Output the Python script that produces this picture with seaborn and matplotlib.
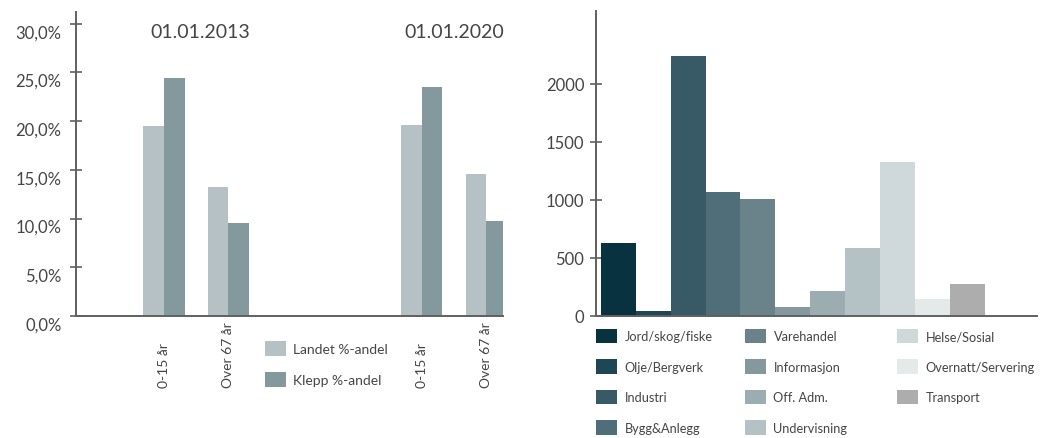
import matplotlib
matplotlib.use("Agg")
import matplotlib.pyplot as plt
import matplotlib.transforms as mtransforms
from matplotlib.patches import Patch
import seaborn as sns
import pandas as pd

# ---------------- data ----------------
age_order = ["pad0", "2013|0-15 år", "2013|Over 67 år", "pad1", "pad2",
             "2020|0-15 år", "2020|Over 67 år"]
age_cats = ["2013|0-15 år", "2013|Over 67 år", "2020|0-15 år", "2020|Over 67 år"]
age_labels = ["0-15 år", "Over 67 år", "0-15 år", "Over 67 år"]
landet = [19.5, 13.2, 19.6, 14.6]
klepp = [24.4, 9.5, 23.5, 9.7]
series = ["Landet %-andel", "Klepp %-andel"]
dates = ["01.01.2013", "01.01.2020"]
pct_ticks = [0, 5, 10, 15, 20, 25, 30]
pct_labels = ["0,0%", "5,0%", "10,0%", "15,0%", "20,0%", "25,0%", "30,0%"]

sectors = ["Jord/skog/fiske", "Olje/Bergverk", "Industri", "Bygg&Anlegg",
           "Varehandel", "Informasjon", "Off. Adm.", "Undervisning",
           "Helse/Sosial", "Overnatt/Servering", "Transport"]
employees = [630, 40, 2240, 1070, 1010, 75, 215, 590, 1330, 145, 275]
count_ticks = [0, 500, 1000, 1500, 2000]

# ---------------- style ----------------
sns.set_style("white")
plt.rcParams["font.family"] = ["Lato", "DejaVu Sans"]
TXT = "#454545"
SPINE = "#606060"
series_colors = ["#b5c1c5", "#84999e"]
sector_colors = ["#08323f", "#1f4654", "#375a66", "#4f6e79", "#6a838b",
                 "#84989e", "#9cadb2", "#b4c1c5", "#cfd8db", "#e4eaea", "#adadad"]

W, H = 1041, 439
fig = plt.figure(figsize=(W / 100, H / 100), dpi=100)

def px_axes(x0, x1, ytop, ybot):
    return fig.add_axes([x0 / W, 1 - ybot / H, (x1 - x0) / W, (ybot - ytop) / H])

# ---------------- left chart ----------------
ax1 = px_axes(76, 503, 13, 317)
df1 = pd.DataFrame({
    "cat": age_cats * 2,
    "series": [series[0]] * 4 + [series[1]] * 4,
    "value": landet + klepp,
})
sns.barplot(data=df1, x="cat", y="value", hue="series", order=age_order,
            hue_order=series, palette=series_colors, width=0.64,
            saturation=1, legend=False, linewidth=0, ax=ax1)
ax1.set_xlim(-0.365, 6.26)
ax1.set_ylim(0, 31.2)
ax1.set_xticks([])
ax1.set_yticks(pct_ticks)
ax1.set_yticklabels(pct_labels)
ax1.set_xlabel("")
ax1.set_ylabel("")
ax1.tick_params(axis="y", left=True, direction="inout", length=9, width=1.2,
                color=SPINE, pad=6, labelsize=12, labelcolor=TXT)
off = mtransforms.ScaledTranslation(0, -7 / 100, fig.dpi_scale_trans)
for t in ax1.yaxis.get_major_ticks():
    t.label1.set_transform(t.label1.get_transform() + off)
for s in ["top", "right"]:
    ax1.spines[s].set_visible(False)
for s in ["left", "bottom"]:
    ax1.spines[s].set_color(SPINE)
    ax1.spines[s].set_linewidth(1.4)

xt = ax1.get_xaxis_transform()
for cat, lab in zip(age_cats, age_labels):
    ax1.text(age_order.index(cat), -0.2336, lab, transform=xt, rotation=90,
             ha="center", va="bottom", fontsize=10, color=TXT)
ax1.text(1.56, 29.2, dates[0], ha="center", va="center", fontsize=14, color=TXT)
ax1.text(5.51, 29.2, dates[1], ha="center", va="center", fontsize=14, color=TXT)

h1 = [Patch(facecolor=c, edgecolor="none", label=l) for c, l in zip(series_colors, series)]
fig.legend(handles=h1, loc="upper left", bbox_to_anchor=(265 / W, 1 - 342 / H),
           frameon=False, fontsize=10, handlelength=1.5, handleheight=1.3,
           labelspacing=1.15, handletextpad=0.5, borderpad=0, borderaxespad=0,
           labelcolor=TXT)

# ---------------- right chart ----------------
ax2 = px_axes(596, 1037, 12, 317)
df2 = pd.DataFrame({"sector": sectors, "employees": employees})
sns.barplot(data=df2, x="sector", y="employees", hue="sector", order=sectors,
            hue_order=sectors, palette=sector_colors, width=1, saturation=1,
            legend=False, linewidth=0, ax=ax2)
ax2.set_xlim(-0.64, 12.0)
ax2.set_ylim(0, 2629)
ax2.set_xticks([])
ax2.set_yticks(count_ticks)
ax2.set_xlabel("")
ax2.set_ylabel("")
ax2.tick_params(axis="y", left=True, direction="inout", length=9, width=1.2,
                color=SPINE, pad=4, labelsize=12, labelcolor=TXT)
for s in ["top", "right"]:
    ax2.spines[s].set_visible(False)
for s in ["left", "bottom"]:
    ax2.spines[s].set_color(SPINE)
    ax2.spines[s].set_linewidth(1.4)

cols_x = [596, 745, 897]
groups = [range(0, 4), range(4, 8), range(8, 11)]
for cx, g in zip(cols_x, groups):
    hs = [Patch(facecolor=sector_colors[i], edgecolor="none", label=sectors[i]) for i in g]
    fig.legend(handles=hs, loc="upper left", bbox_to_anchor=(cx / W, 1 - 330 / H),
               frameon=False, fontsize=9.2, handlelength=1.63, handleheight=1.36,
               labelspacing=1.25, handletextpad=0.6, borderpad=0,
               borderaxespad=0, labelcolor=TXT)

fig.savefig("out.png", dpi=100)
